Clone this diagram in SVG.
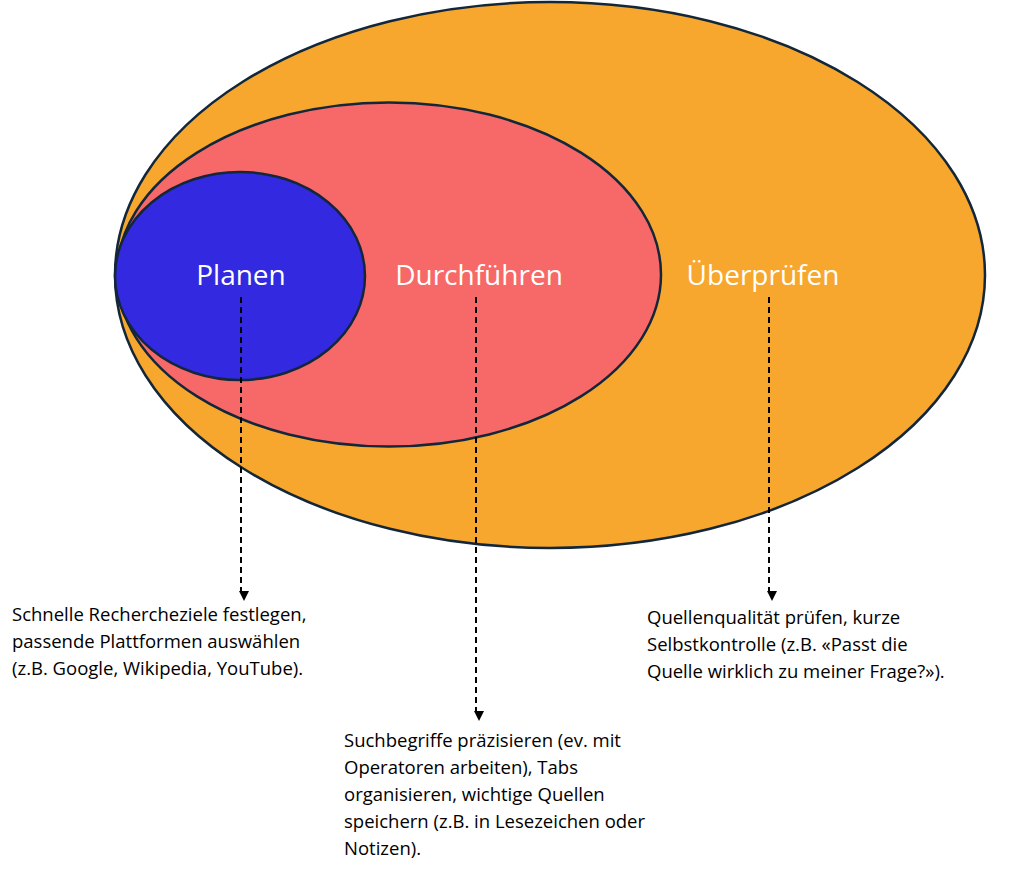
<svg xmlns="http://www.w3.org/2000/svg" width="1024" height="880" viewBox="0 0 1024 880">
<style>
.e{stroke:#13273a;stroke-width:2.5}
.lbl{font-family:"Open Sans","Liberation Sans",sans-serif;font-size:28px;fill:#fff;text-anchor:middle}
.t{font-family:"Open Sans","Liberation Sans",sans-serif;font-size:18.5px;fill:#000}
.c{stroke:#000;stroke-width:2;stroke-dasharray:6,4;fill:none;marker-end:url(#a)}
</style>
<defs><marker id="a" markerWidth="10" markerHeight="10" refX="5" refY="8" orient="auto" markerUnits="userSpaceOnUse" viewBox="0 0 10 10"><path d="M0,0 L10,0 L5,10 Z" fill="#000" transform="rotate(-90 5 5)"/></marker></defs>
<rect width="1024" height="880" fill="#fff"/>
<g id="ueberpruefen"><ellipse class="e" cx="550" cy="275" rx="435" ry="273" fill="#f7a72d"/><text class="lbl" x="763" y="285">Überprüfen</text></g>
<g id="durchfuehren"><ellipse class="e" cx="389" cy="274.5" rx="272" ry="172" fill="#f76868"/><text class="lbl" x="479" y="285">Durchführen</text></g>
<g id="planen"><ellipse class="e" cx="240" cy="276" rx="125" ry="104" fill="#3229e0"/><text class="lbl" x="241" y="285">Planen</text></g>
<g id="connectors">
<line class="c" x1="241" y1="297" x2="241" y2="596"/>
<line class="c" x1="476" y1="297" x2="476" y2="716"/>
<line class="c" x1="769" y1="297" x2="769" y2="596"/>
</g>
<g id="text-planen" class="t"><text x="12" y="621">Schnelle Recherche­ziele festlegen,</text><text x="12" y="648">passende Plattformen auswählen</text><text x="12" y="675">(z.B. Google, Wikipedia, YouTube).</text></g>
<g id="text-durch" class="t"><text x="344" y="747">Suchbegriffe präzisieren (ev. mit</text><text x="344" y="774">Operatoren arbeiten), Tabs</text><text x="344" y="801">organisieren, wichtige Quellen</text><text x="344" y="828">speichern (z.B. in Lesezeichen oder</text><text x="344" y="855">Notizen).</text></g>
<g id="text-ueber" class="t"><text x="647" y="624">Quellenqualität prüfen, kurze</text><text x="647" y="651">Selbstkontrolle (z.B. «Passt die</text><text x="647" y="678">Quelle wirklich zu meiner Frage?»).</text></g>
</svg>
